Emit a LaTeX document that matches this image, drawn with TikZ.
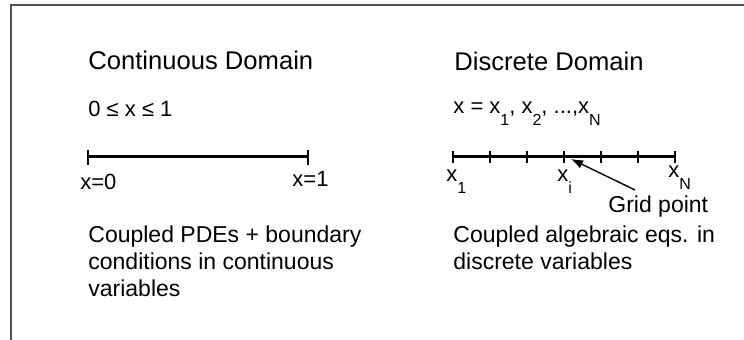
\documentclass[tikz,border=0pt]{standalone}
\usepackage{fontspec}
\setmainfont{Liberation Sans}
\usetikzlibrary{positioning, arrows.meta}
\newcommand{\lowsub}[1]{\raisebox{-6pt}{\fontsize{8}{9}\selectfont #1}}

\begin{document}
\begin{tikzpicture}[
      x=0.5pt, y=-0.5pt,
      % 見出しの基本スタイル設定
      heading/.style={anchor=base west, inner sep=0pt, font=\fontsize{12.8}{15}\selectfont},
      % 本文のスタイル設定（複数行は最終行のベースラインで配置）
      body/.style={anchor=base west, inner sep=0pt, align=left, font=\fontsize{11.5}{13.5}\selectfont},
      lbl/.style={anchor=base west, inner sep=0pt, font=\fontsize{11}{13}\selectfont},
      % 数直線と目盛り
      axis/.style={draw, line width=1.5pt},
      tick/.style={draw, line width=0.8pt},
      frame/.style={draw=black!68, line width=1pt},
      % 矢印のスタイル設定
      pointer/.style={draw, line width=0.7pt, -{Latex[length=6pt, width=4.5pt]}}
    ]

    \useasboundingbox (0,0) rectangle (744,340);
    \draw [frame] (11,340) -- (11,5) -- (744,5);

    % --- 左側：連続領域 ---
    \node [heading] (conttitle) at (88,70) {Continuous Domain};
    \node [lbl] (contrange) at (88,117) {0 ≤ x ≤ 1};
    \coordinate (c0) at (88,157);
    \coordinate (c1) at (308,157);
    \draw [axis] (c0) -- (c1);
    \draw [tick] (c0) ++(0,-7) -- ++(0,15);
    \draw [tick] (c1) ++(0,-7) -- ++(0,15);
    \node [lbl] (lbl0) at (80,190) {x=0};
    \node [lbl] (lbl1) at (292,187) {x=1};
    \node [body] (contbody) at (88,297) {Coupled PDEs + boundary\\conditions in continuous\\variables};

    % --- 右側：離散領域 ---
    \node [heading] (disctitle) at (454,71) {Discrete Domain};
    \node [lbl] (discset) at (453,114) {x = x\lowsub{1}, x\lowsub{2}, ...,x\lowsub{N}};
    \foreach \i in {0,...,6}
      \coordinate (g\i) at (453+37*\i,157);
    \draw [axis] (g0) -- (g6);
    \foreach \i in {0,...,6}
      \draw [tick] (g\i) ++(0,-6) -- ++(0,12);
    \node [lbl] (lblfirst) at (446,182) {x\lowsub{1}};
    \node [lbl] (lbli) at (557,182) {x\lowsub{i}};
    \node [lbl] (lbllast) at (668,178) {x\lowsub{N}};

    % 格子点の説明
    \node [lbl, font=\fontsize{11.5}{13.5}\selectfont] (gridlbl) at (608,213) {Grid point};
    \coordinate (ptail) at (635,190);
    \coordinate (ptip) at (571,159);
    \draw [pointer] (ptail) -- (ptip);

    \node [body] (discbody) at (453,270) {Coupled algebraic eqs. in\\discrete variables};

    \end{tikzpicture}
\end{document}
